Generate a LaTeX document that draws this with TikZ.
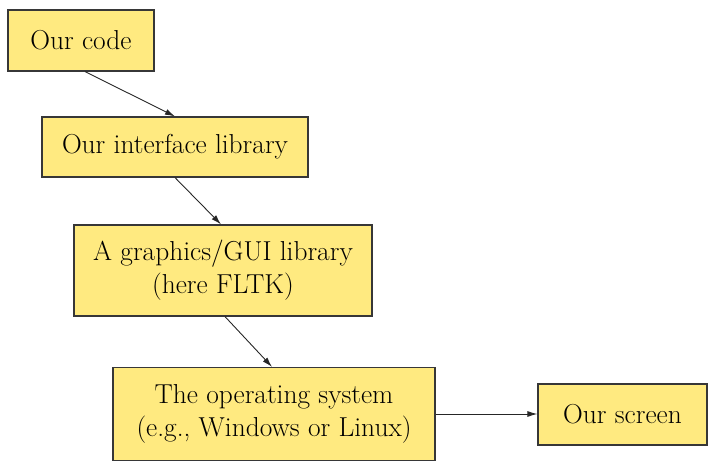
\documentclass[tikz,border=0pt]{standalone}
\usepackage{tikz}
\usetikzlibrary{arrows.meta}

\definecolor{boxfill}{RGB}{255,234,128}
\definecolor{boxline}{RGB}{55,55,55}

\tikzset{layer/.style={draw=boxline, fill=boxfill, line width=1.2pt, align=center,
    inner sep=0pt, font=\fontsize{27.5}{33}\selectfont},
  link/.style={-{Latex[length=10bp,width=6bp]}, line width=0.9pt, draw=black!85}}

\begin{document}
\begin{tikzpicture}[x=1bp, y=1bp]
    \useasboundingbox (0,0) rectangle (725,-472);

    \node[layer, minimum width=146bp, minimum height=61bp] (code)   at (81,-40.5)    {Our code};
    \node[layer, minimum width=266bp, minimum height=60bp] (iface)  at (175,-147)    {Our interface library};
    \node[layer, minimum width=298bp, minimum height=91bp] (gui)    at (223,-270.5)  {A graphics/GUI library\\(here FLTK)};
    \node[layer, minimum width=322bp, minimum height=93bp] (os)     at (274,-414)    {The operating system\\(e.g., Windows or Linux)};
    \node[layer, minimum width=169bp, minimum height=61bp] (screen) at (622.5,-414.5) {Our screen};

    \draw[link] ([xshift=4bp]code.south) -- (iface.north);
    \draw[link] (iface.south) -- ([xshift=-2bp]gui.north);
    \draw[link] ([xshift=2bp]gui.south) -- ([xshift=-2bp]os.north);
    \draw[link] (os.east) -- (os.east -| screen.west);
\end{tikzpicture}
\end{document}
